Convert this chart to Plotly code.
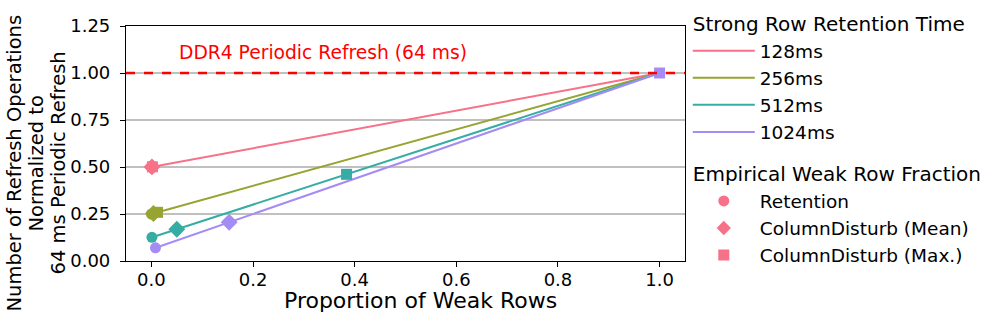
import plotly.graph_objects as go

# Strong row retention times and their line colors
retention_labels = ["128ms", "256ms", "512ms", "1024ms"]
line_colors = ["#f77189", "#97a431", "#36ada4", "#a48cf4"]

# Normalized refresh ops at 0 and 1 weak-row proportion
line_x = [0.0, 1.0]
line_y_start = [0.5, 0.25, 0.125, 0.0625]
line_y_end = [1.0, 1.0, 1.0, 1.0]

# Empirical weak row fractions (x) and resulting normalized refresh (y)
retention_x = [0.0, 0.0, 0.001, 0.008]
retention_y = [0.5, 0.25, 0.126, 0.070]
cd_mean_x = [0.001, 0.004, 0.050, 0.153]
cd_mean_y = [0.5005, 0.253, 0.169, 0.206]
cd_max_x = [0.002, 0.012, 0.384, 1.0]
cd_max_y = [0.501, 0.259, 0.461, 1.0]

marker_labels = ["Retention", "ColumnDisturb (Mean)", "ColumnDisturb (Max.)"]
marker_symbols = ["circle", "diamond", "square"]

ylabel_lines = ["Number of Refresh Operations", "Normalized to", "64 ms Periodic Refresh"]

FONT = "DejaVu Sans"

fig = go.Figure()

for i, lab in enumerate(retention_labels):
    fig.add_trace(go.Scatter(
        x=line_x, y=[line_y_start[i], line_y_end[i]], mode="lines",
        line=dict(color=line_colors[i], width=2),
        name=lab, legendgroup="ret", legendgrouptitle_text="Strong Row Retention Time",
    ))

for i in range(4):
    for xs, ys, sym, sz in [(retention_x, retention_y, "circle", 11),
                            (cd_mean_x, cd_mean_y, "diamond", 13),
                            (cd_max_x, cd_max_y, "square", 11)]:
        fig.add_trace(go.Scatter(
            x=[xs[i]], y=[ys[i]], mode="markers",
            marker=dict(symbol=sym, size=sz, color=line_colors[i]),
            showlegend=False, hoverinfo="skip",
        ))

# legend-only marker entries
for lab, sym in zip(marker_labels, marker_symbols):
    fig.add_trace(go.Scatter(
        x=[None], y=[None], mode="markers",
        marker=dict(symbol=sym, size=11, color=line_colors[0]),
        name=lab, legendgroup="emp", legendgrouptitle_text="Empirical Weak Row Fraction",
    ))

fig.add_shape(type="line", xref="paper", x0=0, x1=1, yref="y", y0=1.0, y1=1.0,
              line=dict(color="red", width=2.5, dash="dash"))
fig.add_annotation(x=0.05, y=1.11, xanchor="left", yanchor="middle",
                   text="DDR4 Periodic Refresh (64 ms)", showarrow=False,
                   font=dict(color="red", size=18.7, family=FONT))

# three-line y label, one annotation per line
for k, txt in enumerate(ylabel_lines):
    fig.add_annotation(xref="paper", yref="paper", x=0, y=0.415,
                       xanchor="center", yanchor="middle", textangle=-90,
                       xshift=-112 + 22 * k, text=txt, showarrow=False,
                       font=dict(size=19.5, family=FONT, color="black"))

# x label (sits a little right of the axes centre in the original)
fig.add_annotation(xref="paper", yref="paper", x=0.526, y=-0.166,
                   xanchor="center", yanchor="middle", text="Proportion of Weak Rows",
                   showarrow=False, font=dict(size=22, family=FONT, color="black"))

axis_common = dict(showline=True, linecolor="black", linewidth=1.2, mirror=True,
                   ticks="outside", ticklen=5, tickcolor="black", automargin=False,
                   tickfont=dict(size=18, family=FONT, color="black"), zeroline=False)

fig.update_xaxes(range=[-0.05, 1.05], tickvals=[0, 0.2, 0.4, 0.6, 0.8, 1.0],
                 ticktext=["0.0", "0.2", "0.4", "0.6", "0.8", "1.0"], showgrid=False,
                 ticklabelstandoff=-3, **axis_common)
fig.update_yaxes(range=[0, 1.25], tickvals=[0, 0.25, 0.5, 0.75, 1.0, 1.25],
                 ticktext=["0.00", "0.25", "0.50", "0.75", "1.00", "1.25"],
                 showgrid=True, gridcolor="#c0c0c0", gridwidth=1.5, ticklabelstandoff=6,
                 **axis_common)

fig.update_layout(
    width=996, height=321,
    margin=dict(l=126, r=311, t=26, b=60, autoexpand=False),
    plot_bgcolor="white", paper_bgcolor="white",
    font=dict(family=FONT, size=18, color="black"),
    legend=dict(x=1.005, xanchor="left", y=1.097, yanchor="top", maxheight=320,
                font=dict(size=18.5, family=FONT), tracegroupgap=13, itemwidth=62,
                groupclick="toggleitem", bgcolor="rgba(0,0,0,0)"),
)

fig.write_html("out.html", config={"displayModeBar": False},
               post_script="document.body.style.margin = '0';")
